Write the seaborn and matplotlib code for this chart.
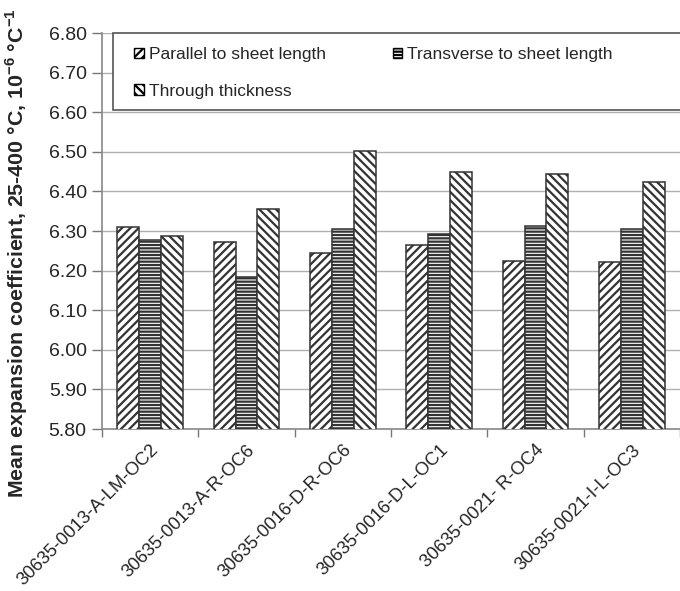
import matplotlib
matplotlib.use("Agg")
import matplotlib.pyplot as plt
import seaborn as sns
import pandas as pd
import numpy as np
from matplotlib.patches import Patch, Rectangle

samples = ["30635-0013-A-LM-OC2", "30635-0013-A-R-OC6", "30635-0016-D-R-OC6",
           "30635-0016-D-L-OC1", "30635-0021- R-OC4", "30635-0021-I-L-OC3"]
series = ["Parallel to sheet length", "Transverse to sheet length", "Through thickness"]
parallel = [6.311, 6.273, 6.244, 6.265, 6.225, 6.222]
transverse = [6.278, 6.185, 6.305, 6.292, 6.313, 6.304]
through = [6.287, 6.357, 6.502, 6.448, 6.444, 6.425]
yticks = [5.80, 5.90, 6.00, 6.10, 6.20, 6.30, 6.40, 6.50, 6.60, 6.70, 6.80]

df = pd.DataFrame({
    "sample": samples * 3,
    "series": [series[0]] * 6 + [series[1]] * 6 + [series[2]] * 6,
    "value": parallel + transverse + through,
})

sns.set_theme(style="white")
plt.rcParams['font.family'] = ['Liberation Sans', 'DejaVu Sans']
plt.rcParams['hatch.linewidth'] = 1.6
plt.rcParams['mathtext.fontset'] = 'custom'
plt.rcParams['mathtext.rm'] = 'Liberation Sans'
plt.rcParams['mathtext.bf'] = 'Liberation Sans:bold'

W, H = 680, 591
fig = plt.figure(figsize=(6.8, 5.91), dpi=100)
ax = fig.add_axes([0.150, 0.274, 0.85, 0.670])

hatches = ["////", "-----", "\\\\\\\\"]
edge = "#333333"
sns.barplot(data=df, x="sample", y="value", hue="series", order=samples,
            hue_order=series, ax=ax, width=0.68, gap=0, legend=False,
            palette=["white"] * 3, saturation=1, errorbar=None)

for i, bar in enumerate(ax.patches):
    bar.set_hatch(hatches[i // len(samples)])
    bar.set_facecolor("white")
    bar.set_edgecolor(edge)
    bar.set_linewidth(1.1)
    bar.set_zorder(3)

ax.set_ylim(5.80, 6.80)
ax.set_yticks(yticks)
ax.set_yticklabels([f"{v:.2f}" for v in yticks], fontsize=14)
ax.set_xlim(-0.5, len(samples) - 0.5)
ax.yaxis.grid(True, color="#b0b0b0", linewidth=1.0, zorder=0)
ax.set_axisbelow(True)

ax.set_xticks(np.arange(len(samples)))
ax.set_xticklabels(samples, rotation=45, ha="right", rotation_mode="anchor", fontsize=13.2)
ax.tick_params(axis="x", length=0, pad=9)
ax.set_xticks(np.arange(len(samples) + 1) - 0.5, minor=True)
ax.tick_params(axis="x", which="minor", length=6, color="#777777", width=1, direction="out", bottom=True)
ax.tick_params(axis="y", length=7, color="#777777", width=1, direction="out", left=True, pad=4)

for s in ["top", "right"]:
    ax.spines[s].set_visible(False)
for s in ["left", "bottom"]:
    ax.spines[s].set_color("#888888")
    ax.spines[s].set_linewidth(1.2)

ax.set_xlabel("")
ax.set_ylabel(r"Mean expansion coefficient, 25-400 °C, 10$^{\mathbf{-6}}$ °C$^{\mathbf{-1}}$",
              fontsize=15.4, fontweight="bold")
ax.yaxis.set_label_coords(-0.125, 0.445)

# legend frame (white box extending past the right edge)
frame = Rectangle((113 / W, 1 - 110 / H), (700 - 113) / W, 77 / H,
                  transform=fig.transFigure, facecolor="white",
                  edgecolor="#555555", linewidth=1.2, zorder=4)
fig.add_artist(frame)

order = [0, 2, 1]
handles = [Patch(facecolor="white", edgecolor="black", hatch=hatches[k], label=series[k])
           for k in order]
leg = fig.legend(handles=handles, ncol=2, loc="upper left",
                 bbox_to_anchor=(121 / W, 1 - 34 / H),
                 fontsize=12.5, frameon=False,
                 handlelength=0.55, handleheight=0.55, handletextpad=0.3,
                 borderpad=0.75, labelspacing=1.25, columnspacing=3.85, borderaxespad=0)
leg.set_zorder(5)

fig.savefig("out.png", dpi=100)
